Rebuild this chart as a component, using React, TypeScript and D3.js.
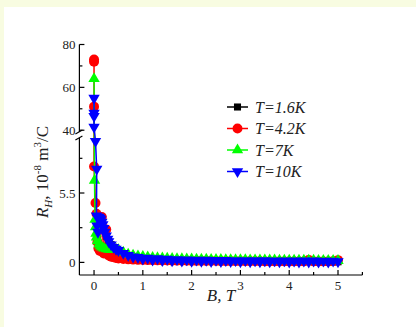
import * as d3 from "d3";

// ── Data ──────────────────────────────────────────────────────
const X_TICKS = [0, 1, 2, 3, 4, 5];
const X_MINOR = [0.5, 1.5, 2.5, 3.5, 4.5, 5.5];
const Y_UP_TICKS = [40, 60, 80];
const Y_UP_MINOR = [50, 70];
const Y_LOW_TICKS = [0, 5.5];
const Y_LOW_MINOR = [2.75, 8.25];

const LABELS = ["T=1.6K", "T=4.2K", "T=7K", "T=10K"];
const COLORS = ["#000000", "#ff0000", "#00ff00", "#0000ff"];

// field grid shared by the high-field tails
const TAIL_B = [
  0.5, 0.6, 0.7, 0.8, 0.9, 1.0, 1.1, 1.2, 1.3, 1.4, 1.5, 1.6, 1.7, 1.8, 1.9, 2.0,
  2.1, 2.2, 2.3, 2.4, 2.5, 2.6, 2.7, 2.8, 2.9, 3.0, 3.1, 3.2, 3.3, 3.4, 3.5, 3.6,
  3.7, 3.8, 3.9, 4.0, 4.1, 4.2, 4.3, 4.4, 4.5, 4.6, 4.7, 4.8, 4.9, 5.0,
];

// T = 1.6 K
const HEAD_B_16 = [0.08, 0.1, 0.12, 0.14, 0.16, 0.18, 0.2, 0.25, 0.3, 0.35, 0.4, 0.45];
const HEAD_R_16 = [3.5, 3.5, 3.4, 3.3, 3.1, 2.9, 2.6, 2.05, 1.65, 1.4, 1.2, 1.05];
const TAIL_R_16 = [
  0.9, 0.66, 0.54, 0.43, 0.37, 0.3, 0.26, 0.22, 0.2, 0.18, 0.17, 0.16, 0.15, 0.14, 0.13, 0.12,
  0.12, 0.11, 0.11, 0.1, 0.1, 0.1, 0.09, 0.09, 0.09, 0.08, 0.08, 0.08, 0.08, 0.08, 0.07, 0.07,
  0.07, 0.07, 0.07, 0.06, 0.06, 0.06, 0.06, 0.06, 0.06, 0.06, 0.05, 0.05, 0.05, 0.05,
];

// T = 4.2 K
const HEAD_B_42 = [0, 0, 0, 0, 0.03, 0.05, 0.07, 0.09, 0.12, 0.16, 0.2, 0.25, 0.3, 0.35, 0.4, 0.45];
const HEAD_R_42 = [73, 72, 51, 7.6, 4.7, 3.85, 1.6, 1.1, 0.9, 3.6, 0.7, 2.6, 0.55, 0.45, 0.4, 0.35];
const TAIL_R_42 = [
  0.3, 0.27, 0.24, 0.22, 0.2, 0.19, 0.18, 0.17, 0.16, 0.15, 0.15, 0.14, 0.14, 0.13, 0.13, 0.12,
  0.12, 0.12, 0.11, 0.11, 0.11, 0.1, 0.1, 0.1, 0.1, 0.09, 0.09, 0.09, 0.09, 0.09, 0.08, 0.08,
  0.08, 0.08, 0.08, 0.08, 0.08, 0.08, 0.08, 0.2, 0.08, 0.08, 0.08, 0.08, 0.1, 0.18,
];

// T = 7 K
const HEAD_B_7 = [0, 0.01, 0.02, 0.03, 0.04, 0.05, 0.07, 0.1, 0.13, 0.16, 0.2, 0.25, 0.3, 0.35, 0.4, 0.45];
const HEAD_R_7 = [64, 6.5, 3.4, 2.8, 2.3, 2.0, 1.7, 1.45, 1.3, 1.2, 1.12, 1.06, 1.03, 1.01, 1.0, 1.0];
const TAIL_R_7 = [
  1.0, 0.8, 0.64, 0.57, 0.5, 0.46, 0.42, 0.39, 0.36, 0.34, 0.32, 0.3, 0.29, 0.28, 0.27, 0.26,
  0.25, 0.24, 0.24, 0.23, 0.22, 0.22, 0.21, 0.21, 0.2, 0.2, 0.2, 0.19, 0.19, 0.19, 0.18, 0.18,
  0.18, 0.17, 0.17, 0.17, 0.17, 0.16, 0.16, 0.16, 0.16, 0.15, 0.15, 0.15, 0.15, 0.14,
];

// T = 10 K
const HEAD_B_10 = [
  0, 0, 0, 0, 0.03, 0.055, 0.05, 0.06, 0.07, 0.08, 0.1, 0.12, 0.14, 0.16, 0.18, 0.2,
  0.22, 0.25, 0.28, 0.3, 0.35, 0.4, 0.45,
];
const HEAD_R_10 = [
  55, 48, 46.5, 41.5, 9.6, 7.4, 3.7, 2.9, 3.6, 2.4, 3.6, 3.5, 3.4, 3.2, 3.0, 2.7,
  2.4, 2.1, 1.85, 1.65, 1.4, 1.2, 1.05,
];
const TAIL_R_10 = [
  0.95, 0.72, 0.56, 0.44, 0.4, 0.28, 0.34, 0.2, 0.3, 0.16, 0.26, 0.13, 0.23, 0.11, 0.21, 0.1,
  0.19, 0.09, 0.18, 0.08, 0.17, 0.07, 0.16, 0.07, 0.15, 0.06, 0.15, 0.06, 0.14, 0.05, 0.14, 0.05,
  0.13, 0.05, 0.13, 0.04, 0.12, 0.04, 0.12, 0.04, 0.12, 0.03, 0.11, 0.03, 0.11, 0.06,
];

const SERIES_B = [
  [...HEAD_B_16, ...TAIL_B],
  [...HEAD_B_42, ...TAIL_B],
  [...HEAD_B_7, ...TAIL_B],
  [...HEAD_B_10, ...TAIL_B],
];
const SERIES_R = [
  [...HEAD_R_16, ...TAIL_R_16],
  [...HEAD_R_42, ...TAIL_R_42],
  [...HEAD_R_7, ...TAIL_R_7],
  [...HEAD_R_10, ...TAIL_R_10],
];

// ── Layout ────────────────────────────────────────────────────
const W = 416;
const H = 327;
const X0 = 79.4;
const X1 = 362.4;
const Y_BOT = 275;
const Y_LOW_TOP = 137.5;
const Y_UP_BOT = 134.5;
const Y_TOP = 44.5;

const x = d3.scaleLinear().domain([-0.3, 5.5]).range([X0, X1]);
const yLow = d3.scaleLinear().domain([-1, 9.9]).range([Y_BOT, Y_LOW_TOP]);
const yUp = d3.scaleLinear().domain([38, 80]).range([Y_UP_BOT, Y_TOP]);
const yGap = d3.scaleLinear().domain([9.9, 38]).range([Y_LOW_TOP, Y_UP_BOT]);

// broken y axis: lower part, gap, upper part
function y(v: number) {
  if (v <= 9.9) return yLow(v);
  if (v >= 38) return yUp(v);
  return yGap(v);
}

const symbols = [
  d3.symbol().type(d3.symbolSquare).size(50)(),
  d3.symbol().type(d3.symbolCircle).size(78)(),
  d3.symbol().type(d3.symbolTriangle).size(56)(),
  d3.symbol().type(d3.symbolTriangle).size(56)(),
];
const rot = [0, 0, 0, 180];

const FONT = "Liberation Serif, Times New Roman, DejaVu Serif, serif";

export default function App() {
  return (
    <div style={{ position: "fixed", left: 0, top: 0, width: W, height: H }}>
      <svg width={W} height={H} style={{ display: "block", fontFamily: FONT }}>
        <rect x={0} y={0} width={W} height={H} fill="#f8fce1" />
        <rect x={4} y={7} width={W - 4} height={H - 7} fill="#ffffff" />

        {/* series, drawn 1.6K first so 10K ends on top */}
        {SERIES_B.map((bs, si) => {
          const pts: [number, number][] = bs.map((b, i) => [x(b), y(SERIES_R[si][i])]);
          const path = d3.line()(pts) ?? "";
          return (
            <g key={si}>
              <path d={path} fill="none" stroke={COLORS[si]} strokeWidth={1.5} />
              {pts.map((p, i) => (
                <path
                  key={i}
                  d={symbols[si] ?? ""}
                  transform={`translate(${p[0]},${p[1]}) rotate(${rot[si]})`}
                  fill={COLORS[si]}
                />
              ))}
            </g>
          );
        })}

        {/* axes */}
        <g stroke="#000" strokeWidth={1.2} fill="none">
          <line x1={X0} x2={X1} y1={Y_BOT} y2={Y_BOT} />
          <line x1={X0} x2={X0} y1={Y_BOT} y2={Y_LOW_TOP + 0.5} />
          <line x1={X0} x2={X0} y1={Y_UP_BOT - 2.5} y2={Y_TOP} />
          <line x1={X0 - 4} x2={X0 + 3} y1={Y_UP_BOT - 0.5} y2={Y_UP_BOT - 4.5} />
          <line x1={X0 - 4} x2={X0 + 3} y1={Y_LOW_TOP + 2.5} y2={Y_LOW_TOP - 1.5} />
          {X_TICKS.map((t) => (
            <line key={"xt" + t} x1={x(t)} x2={x(t)} y1={Y_BOT} y2={Y_BOT - 5} />
          ))}
          {X_MINOR.map((t) => (
            <line key={"xm" + t} x1={x(t)} x2={x(t)} y1={Y_BOT} y2={Y_BOT - 3} />
          ))}
          {Y_UP_TICKS.map((t) => (
            <line key={"yu" + t} x1={X0} x2={X0 + 5} y1={yUp(t)} y2={yUp(t)} />
          ))}
          {Y_UP_MINOR.map((t) => (
            <line key={"yum" + t} x1={X0} x2={X0 + 3} y1={yUp(t)} y2={yUp(t)} />
          ))}
          {Y_LOW_TICKS.map((t) => (
            <line key={"yl" + t} x1={X0} x2={X0 + 5} y1={yLow(t)} y2={yLow(t)} />
          ))}
          {Y_LOW_MINOR.map((t) => (
            <line key={"ylm" + t} x1={X0} x2={X0 + 3} y1={yLow(t)} y2={yLow(t)} />
          ))}
        </g>

        {/* tick labels */}
        <g fontSize={13} fill="#222">
          {X_TICKS.map((t) => (
            <text key={"xl" + t} x={x(t)} y={Y_BOT + 15} textAnchor="middle">{t}</text>
          ))}
          {Y_UP_TICKS.map((t) => (
            <text key={"yul" + t} x={X0 - 4} y={yUp(t) + 4.5} textAnchor="end">{t}</text>
          ))}
          {Y_LOW_TICKS.map((t) => (
            <text key={"yll" + t} x={X0 - 4} y={yLow(t) + 4.5} textAnchor="end">{t}</text>
          ))}
        </g>

        {/* axis titles */}
        <text x={221} y={301} fontSize={17} fontStyle="italic" textAnchor="middle" fill="#222">
          B, T
        </text>
        <text transform="translate(48,172) rotate(-90)" fontSize={17} textAnchor="middle" fill="#222">
          <tspan fontStyle="italic">R</tspan>
          <tspan fontStyle="italic" fontSize={11} dy={4}>H</tspan>
          <tspan dy={-4}>, 10</tspan>
          <tspan fontSize={11} dy={-7}>-8</tspan>
          <tspan dy={7}> m</tspan>
          <tspan fontSize={11} dy={-7}>3</tspan>
          <tspan dy={7}>/C</tspan>
        </text>

        {/* legend */}
        {LABELS.map((lab, i) => {
          const ly = 107 + i * 21.5;
          return (
            <g key={lab}>
              <line x1={227} x2={248} y1={ly} y2={ly} stroke={COLORS[i]} strokeWidth={1.5} />
              <path d={symbols[i] ?? ""} transform={`translate(237.5,${ly}) rotate(${rot[i]})`} fill={COLORS[i]} />
              <text x={255} y={ly + 5.5} fontSize={16} fontStyle="italic" fill="#222">
                {lab}
              </text>
            </g>
          );
        })}
      </svg>
    </div>
  );
}
